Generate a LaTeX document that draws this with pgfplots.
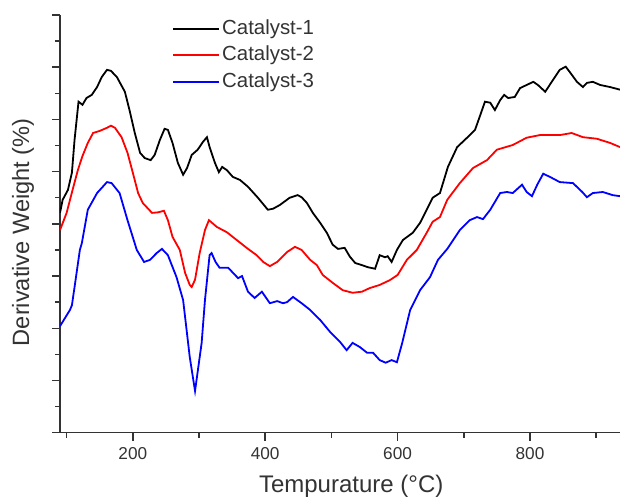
\documentclass[border=0pt]{standalone}
\usepackage{fontspec}
\setmainfont{Liberation Sans}
\usepackage{pgfplots}
\pgfplotsset{compat=1.18}
\definecolor{axgray}{HTML}{333333}
\begin{document}
\begin{tikzpicture}
\begin{axis}[
  scale only axis,
  width=280pt, height=208.85pt,
  xmin=90, xmax=936, ymin=0, ymax=8,
  axis x line*=bottom, axis y line*=left,
  axis line style={axgray, line width=0.75pt},
  every tick/.style={axgray, line width=0.75pt},
  tick align=outside,
  major tick length=4pt, minor tick length=2.5pt,
  xtick={200,400,600,800},
  minor xtick={100,300,500,700,900},
  ytick={0,1,2,3,4,5,6,7,8},
  minor ytick={0.5,1.5,2.5,3.5,4.5,5.5,6.5,7.5},
  yticklabels={},
  /pgf/number format/assume math mode=true,
  ticklabel style={font=\fontsize{8.6}{10}\selectfont, text=axgray},
  xlabel={Tempurature (°C)},
  ylabel={Derivative Weight (\%)},
  xlabel style={at={(axis description cs:0.52,0)}, anchor=center, yshift=-27pt, font=\fontsize{12}{14}\selectfont, text=axgray},
  ylabel style={at={(axis description cs:-0.066,0.48)}, anchor=center, font=\fontsize{11.8}{14}\selectfont, text=axgray},
  legend style={at={(axis description cs:0.2,0.994)}, anchor=north west, draw=none, fill=none, inner sep=0pt, row sep=2.2pt,
    font=\fontsize{10.2}{12}\selectfont, text=axgray,
    nodes={inner sep=1pt, text height=7.2pt, text depth=1.8pt}},
  legend cell align=left,
  legend image code/.code={\draw[#1, line width=0.9pt] (0pt,0pt) -- (23pt,0pt);},
  every axis plot/.append style={line width=0.9pt},
]
\addplot[black] coordinates {
(90,4.21)(94,4.46)(102,4.65)(108,4.98)(112,5.61)(118,6.34)(124,6.28)(130,6.41)(138,6.47)(146,6.62)(153,6.81)(161,6.95)(167,6.93)(176,6.81)(188,6.53)(195,6.18)(203,5.74)(211,5.36)(218,5.26)(227,5.22)(233,5.32)(241,5.61)(248,5.82)(253,5.80)(260,5.55)(268,5.17)(276,4.94)(282,5.07)(289,5.32)(298,5.42)(306,5.57)(312,5.66)(316,5.47)(324,5.17)(330,4.99)(335,5.09)(342,5.03)(351,4.90)(362,4.84)(374,4.71)(389,4.50)(404,4.27)(412,4.29)(422,4.36)(437,4.50)(449,4.55)(455,4.51)(463,4.40)(472,4.21)(483,4.02)(493,3.83)(502,3.60)(510,3.52)(520,3.54)(528,3.37)(536,3.25)(546,3.21)(555,3.17)(566,3.14)(573,3.40)(581,3.36)(585,3.38)(591,3.27)(599,3.50)(608,3.69)(623,3.83)(634,4.02)(644,4.27)(653,4.50)(664,4.59)(676,5.09)(690,5.47)(705,5.65)(717,5.80)(724,6.05)(732,6.34)(740,6.32)(747,6.18)(755,6.37)(761,6.47)(767,6.41)(777,6.43)(785,6.60)(795,6.66)(805,6.72)(812,6.66)(823,6.53)(835,6.76)(845,6.95)(854,7.01)(860,6.91)(871,6.72)(880,6.62)(886,6.70)(895,6.72)(906,6.66)(921,6.62)(936,6.57)
};
\addlegendentry{Catalyst-1}
\addplot[red] coordinates {
(90,3.88)(100,4.21)(109,4.65)(117,5.03)(124,5.30)(132,5.55)(140,5.74)(150,5.78)(161,5.84)(167,5.88)(173,5.84)(183,5.66)(192,5.36)(200,4.98)(208,4.59)(215,4.40)(229,4.21)(238,4.22)(247,4.25)(253,4.07)(260,3.75)(271,3.50)(279,3.06)(286,2.83)(289,2.79)(294,2.93)(301,3.44)(309,3.88)(315,4.07)(327,3.94)(342,3.84)(357,3.69)(372,3.54)(387,3.40)(397,3.27)(407,3.19)(418,3.27)(433,3.46)(445,3.56)(455,3.50)(468,3.31)(478,3.21)(487,3.02)(502,2.87)(517,2.73)(532,2.68)(546,2.70)(558,2.77)(573,2.83)(588,2.92)(600,3.02)(614,3.31)(629,3.50)(644,3.83)(653,4.04)(664,4.13)(675,4.46)(694,4.78)(714,5.07)(735,5.22)(750,5.42)(774,5.51)(795,5.65)(815,5.70)(845,5.70)(863,5.74)(880,5.66)(901,5.63)(921,5.55)(936,5.47)
};
\addlegendentry{Catalyst-2}
\addplot[blue] coordinates {
(90,2.04)(105,2.35)(108,2.44)(112,2.79)(120,3.50)(123,3.63)(132,4.27)(146,4.59)(161,4.80)(168,4.78)(180,4.59)(192,4.07)(206,3.50)(217,3.27)(226,3.31)(236,3.44)(244,3.52)(253,3.40)(266,2.98)(276,2.54)(286,1.45)(294,0.80)(304,1.72)(309,2.54)(316,3.40)(319,3.44)(325,3.27)(331,3.16)(344,3.16)(359,2.96)(365,3.00)(374,2.70)(384,2.58)(395,2.70)(407,2.48)(418,2.52)(427,2.48)(433,2.50)(442,2.60)(455,2.48)(468,2.35)(483,2.16)(498,1.93)(513,1.74)(523,1.58)(532,1.72)(543,1.64)(554,1.53)(563,1.53)(573,1.39)(582,1.34)(591,1.39)(599,1.35)(607,1.72)(619,2.35)(634,2.73)(649,2.98)(661,3.31)(675,3.52)(694,3.88)(709,4.07)(720,4.13)(729,4.09)(740,4.27)(755,4.59)(765,4.61)(774,4.59)(788,4.75)(795,4.61)(803,4.53)(811,4.75)(820,4.96)(830,4.90)(845,4.80)(865,4.78)(879,4.61)(886,4.51)(895,4.59)(910,4.61)(925,4.55)(936,4.53)
};
\addlegendentry{Catalyst-3}
\end{axis}
\pgfresetboundingbox
\path ([shift={(-30pt,-33.15pt)}]current axis.south west) rectangle ([shift={(0pt,7.5pt)}]current axis.north east);
\end{tikzpicture}
\end{document}
